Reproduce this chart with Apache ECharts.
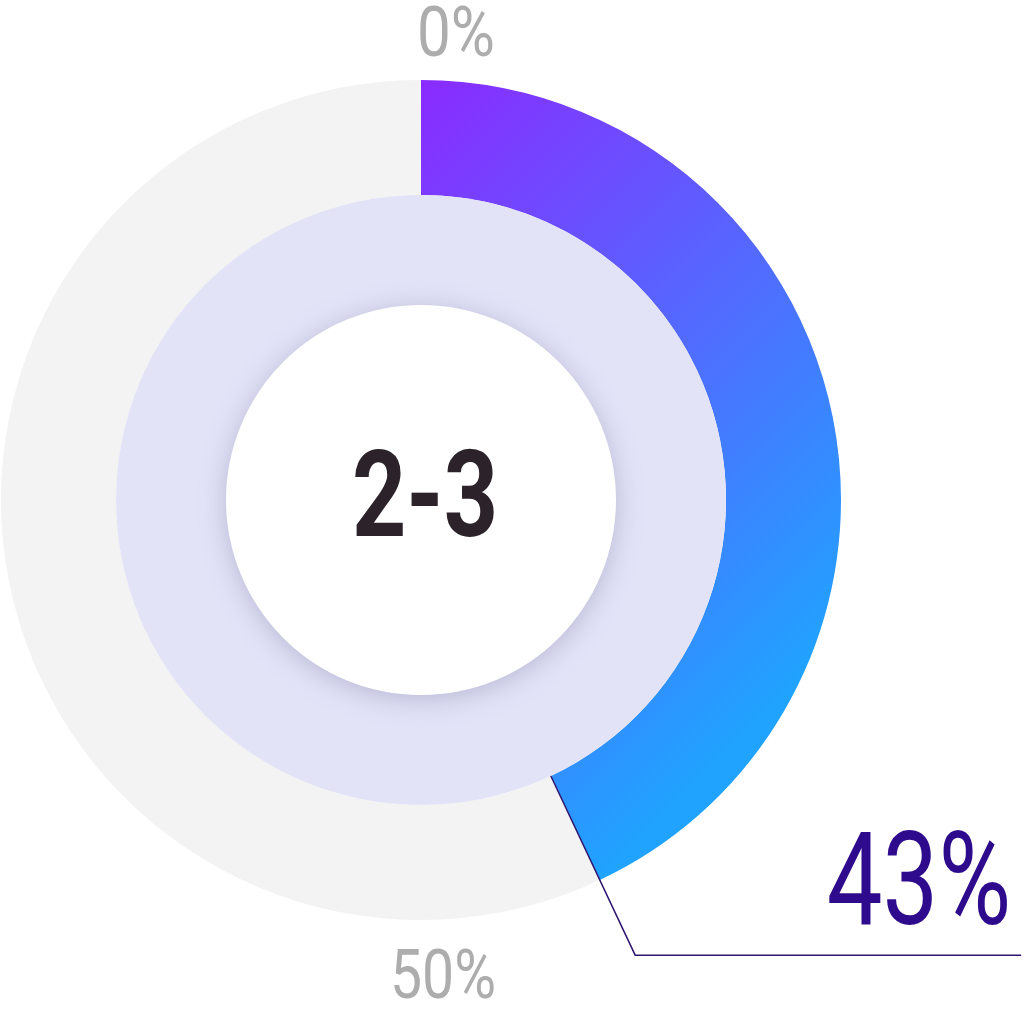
<!DOCTYPE html>
<html>
<head>
<meta charset="utf-8">
<script src="https://cdn.jsdelivr.net/npm/echarts@6/dist/echarts.min.js"></script>
<style>
html,body{margin:0;padding:0;background:#fff;}
#main{width:1024px;height:1015px;}
</style>
</head>
<body>
<div id="main"></div>
<script>
// Data
var centerLabel = '2-3';
var shareNames = ['Share', 'Rest'];
var shareValues = [43, 57];
var tickLabels = ['0%', '50%'];

var chart = echarts.init(document.getElementById('main'), null, {renderer: 'canvas'});
var CX = 421, CY = 500;
var FONT = "Roboto, 'Liberation Sans', sans-serif";
var total = shareValues[0] + shareValues[1];

var option = {
  animation: false,
  backgroundColor: '#ffffff',
  graphic: [
    {type: 'text', x: 456, y: 38, scaleX: 0.86, silent: true, z: 10,
     style: {text: tickLabels[0], fill: '#ADADAD', font: '70px ' + FONT, align: 'center', verticalAlign: 'middle'}},
    {type: 'text', x: 443, y: 981, scaleX: 0.84, silent: true, z: 10,
     style: {text: tickLabels[1], fill: '#ADADAD', font: '68px ' + FONT, align: 'center', verticalAlign: 'middle'}},
    {type: 'text', x: 425, y: 506, scaleX: 0.79, silent: true, z: 10,
     style: {text: centerLabel, fill: '#2B2329', font: 'bold 120px ' + FONT, align: 'center', verticalAlign: 'middle'}},
    {type: 'text', x: 919, y: 892, scaleX: 0.77, silent: true, z: 10,
     style: {text: shareValues[0] + '%', fill: '#2E0A8C', font: '129px ' + FONT, align: 'center', verticalAlign: 'middle'}}
  ],
  series: [
    {
      type: 'pie', silent: true, z: 1,
      center: [CX, CY], radius: [305, 420],
      startAngle: 90, clockwise: true,
      label: {show: false}, labelLine: {show: false},
      emphasis: {disabled: true},
      data: [
        {name: shareNames[0], value: shareValues[0],
         itemStyle: {color: new echarts.graphic.LinearGradient(421, 80, 911, 570, [
           {offset: 0, color: '#8A2BFF'},
           {offset: 1, color: '#20A3FF'}
         ], true)}},
        {name: shareNames[1], value: shareValues[1], itemStyle: {color: '#F3F3F3'}}
      ]
    },
    {
      type: 'pie', silent: true, z: 2,
      center: [CX, CY], radius: [0, 305],
      label: {show: false}, labelLine: {show: false},
      emphasis: {disabled: true},
      data: [{name: 'ring', value: 1, itemStyle: {color: '#E3E3F8'}}]
    },
    {
      type: 'pie', silent: true, z: 3,
      center: [CX, CY], radius: [0, 195],
      emphasis: {disabled: true},
      label: {show: false}, labelLine: {show: false},
      data: [{name: centerLabel, value: 1,
              itemStyle: {color: '#ffffff', shadowBlur: 28, shadowColor: 'rgba(110,110,150,0.38)', shadowOffsetY: 4}}]
    },
    {
      // helper series: carries the callout line from the end of the share arc
      type: 'pie', silent: true, z: 4,
      center: [CX, CY], radius: [0, 305],
      left: 0, top: 0, right: -300, bottom: -400,
      startAngle: 90, clockwise: true,
      avoidLabelOverlap: false,
      emphasis: {disabled: true},
      itemStyle: {color: 'rgba(0,0,0,0)'},
      data: [
        {name: 'a', value: shareValues[0], label: {show: false}, labelLine: {show: false}},
        {name: 'mark', value: total * 0.00001,
         label: {show: true, position: 'outside', formatter: ' ', fontSize: 10,
                 width: 20, overflow: 'none', distanceToLabelLine: 0},
         labelLine: {show: true, length: 198, length2: 386, smooth: false,
                     lineStyle: {color: '#2E1670', width: 1.5}}},
        {name: 'b', value: shareValues[1], label: {show: false}, labelLine: {show: false}}
      ]
    }
  ]
};
chart.setOption(option);
</script>
</body>
</html>
